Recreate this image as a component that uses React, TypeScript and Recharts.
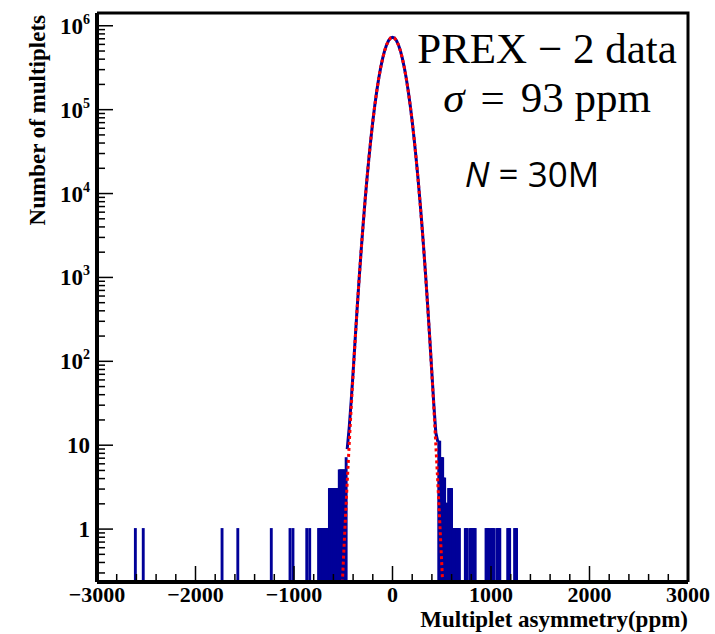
import { ComposedChart, Bar, Line, XAxis, YAxis } from "recharts";

// core of the histogram (ppm, counts)
const histX = [-460, -440, -420, -400, -380, -360, -340, -320, -300, -280, -260, -240, -220, -200, -180, -160, -140, -120, -100, -80, -60, -40, -20, 0,
  20, 40, 60, 80, 100, 120, 140, 160, 180, 200, 220, 240, 260, 280, 300, 320, 340, 360, 380, 400, 420, 440, 460];
const histN = [9, 16, 33, 74, 175, 410, 915, 1960, 4010, 7840, 14650, 26100, 44400, 72200, 112000, 166000, 235000, 317000, 409000, 504000, 592000, 665000, 713000, 729000,
  713000, 665000, 592000, 504000, 409000, 317000, 235000, 166000, 112000, 72200, 44400, 26100, 14650, 7850, 4020, 1965, 918, 408, 174, 72, 30, 14, 11];

// gaussian fit
const fitX = [-520, -500, -480, -460, -440, -420, -400, -380, -360, -340, -320, -300, -280, -260, -240, -220, -200, -180, -160, -140, -120, -100, -80, -60, -40, -20, 0,
  20, 40, 60, 80, 100, 120, 140, 160, 180, 200, 220, 240, 260, 280, 300, 320, 340, 360, 380, 400, 420, 440, 460, 480, 500, 520];
const fitN = [0.119, 0.386, 1.2, 3.55, 10.05, 27.2, 70.1, 172.8, 406.6, 913, 1959, 4013, 7845, 14650, 26110, 44440, 72240, 112100, 166100, 234900, 317300, 409200, 503900, 592500, 665000, 712900, 729400,
  712900, 665000, 592500, 503900, 409200, 317300, 234900, 166100, 112100, 72240, 44440, 26110, 14650, 7845, 4013, 1959, 913, 406.6, 172.8, 70.1, 27.2, 10.05, 3.55, 1.2, 0.386, 0.119];

// sparse tail bins
const tailX = [-2610, -2530, -1730, -1570, -1230, -1040, -1010, -870, -840,
  -750, -740, -730, -720, -710, -700, -690, -680, -670, -660, -650,
  -640, -630, -620, -610, -600, -590, -580, -570, -560, -550,
  -540, -530, -520, -510, -500, -490, -480, -470,
  470, 480, 490, 500, 510, 520, 530, 540, 550, 560, 570, 580, 590, 600,
  610, 620, 630, 640, 650, 660, 670, 680, 740, 750, 760, 790, 800, 810, 820, 830, 840,
  950, 960, 970, 980, 1000, 1010, 1020, 1030, 1060, 1070, 1080, 1090, 1170, 1180, 1190, 1240, 1250, 1260];
const tailN = [1, 1, 1, 1, 1, 1, 1, 1, 1,
  1, 1, 1, 1, 1, 1, 1, 1, 1, 1, 1,
  3, 3, 3, 3, 3, 3, 3, 3, 3, 3,
  5, 5, 5, 5, 5, 5, 5, 7,
  11, 11, 7, 7, 7, 4, 4, 2, 2, 2, 3, 3, 3, 3,
  1, 1, 1, 1, 1, 1, 1, 1, 1, 1, 1, 1, 1, 1, 1, 1, 1,
  1, 1, 1, 1, 1, 1, 1, 1, 1, 1, 1, 1, 1, 1, 1, 1, 1, 1];

const xTicks = Array.from({ length: 31 }, (_, i) => -3000 + i * 200);
const mantissas = [1, 2, 3, 4, 5, 6, 7, 8, 9];
const decades = [1, 10, 100, 1000, 10000, 100000];
const yTicks = [0.3, 0.4, 0.5, 0.6, 0.7, 0.8, 0.9, ...decades.flatMap((d) => mantissas.map((m) => m * d)), 1000000];

const histData = histX.map((x, i) => ({ x, n: histN[i] }));
const fitData = fitX.map((x, i) => ({ x, f: fitN[i] }));
const tailData = tailX.map((x, i) => ({ x, t: tailN[i] }));

const SERIF = '"Liberation Serif", "Times New Roman", serif';
const BLUE = "#000099";

function XTick(props: any) {
  const { x, y, payload } = props;
  const v = payload.value;
  const major = v % 1000 === 0;
  return (
    <g>
      <line x1={x} x2={x} y1={y} y2={y - (major ? 16 : 8)} stroke="#000" strokeWidth={1.5} />
      {major && (
        <text x={x} y={y + 20} textAnchor="middle" fontFamily={SERIF} fontWeight="bold" fontSize={22} fill="#000">
          {v < 0 ? `−${-v}` : `${v}`}
        </text>
      )}
    </g>
  );
}

function YTick(props: any) {
  const { x, y, payload } = props;
  const v = payload.value;
  const exp = Math.round(Math.log10(v));
  const major = Math.abs(Math.log10(v) - exp) < 1e-6;
  return (
    <g>
      <line x1={x} x2={x + (major ? 16 : 8)} y1={y} y2={y} stroke="#000" strokeWidth={1.5} />
      {major && (
        <text x={x - 7} y={y + 8} textAnchor="end" fontFamily={SERIF} fontWeight="bold" fontSize={23} fill="#000">
          {exp === 0 ? "1" : exp === 1 ? "10" : (
            <>
              10<tspan dy={-10} fontSize={14}>{exp}</tspan>
            </>
          )}
        </text>
      )}
    </g>
  );
}

export default function App() {
  return (
    <div style={{ position: "relative", width: 715, height: 634 }}>
      <style>{`body{margin:0}`}</style>
      <ComposedChart width={715} height={634} data={tailData} margin={{ top: 13, right: 27, bottom: 0, left: 0 }}>
        <XAxis
          dataKey="x"
          type="number"
          domain={[-3000, 3000]}
          ticks={xTicks}
          interval={0}
          height={52}
          tickSize={0}
          tickMargin={0}
          tick={<XTick />}
          axisLine={{ stroke: "#000", strokeWidth: 4 }}
          allowDataOverflow
        />
        <YAxis
          type="number"
          scale="log"
          domain={[0.234, 1420000]}
          ticks={yTicks}
          interval={0}
          width={97}
          tickSize={0}
          tickMargin={0}
          tick={<YTick />}
          axisLine={{ stroke: "#000", strokeWidth: 4 }}
          allowDataOverflow
        />
        <Bar dataKey="t" fill={BLUE} stroke={BLUE} strokeWidth={2} barSize={3} isAnimationActive={false} />
        <Line data={histData} dataKey="n" type="linear" stroke={BLUE} strokeWidth={3} dot={false} isAnimationActive={false} />
        <Line data={fitData} dataKey="f" type="linear" stroke="#ff0000" strokeWidth={3} strokeDasharray="3 3" dot={false} isAnimationActive={false} />
      </ComposedChart>
      <svg width={715} height={634} style={{ position: "absolute", left: 0, top: 0, pointerEvents: "none" }}>
        <polyline points="97,13 688,13 688,582" fill="none" stroke="#000" strokeWidth={3} />
        <text transform="rotate(-90)" x={-15} y={45} textAnchor="end" fontFamily={SERIF} fontWeight="bold" fontSize={23} fill="#000">
          Number of multiplets
        </text>
        <text x={688} y={627} textAnchor="end" fontFamily={SERIF} fontWeight="bold" fontSize={23} fill="#000">
          Multiplet asymmetry(ppm)
        </text>
        <text x={547} y={63} textAnchor="middle" fontFamily={SERIF} fontSize={43} fill="#000">
          PREX − 2 data
        </text>
        <text x={547} y={112} textAnchor="middle" fontFamily={SERIF} fontSize={43} fill="#000">
          <tspan fontStyle="italic">σ</tspan>
          <tspan dx={16}>=</tspan>
          <tspan dx={16}>93 ppm</tspan>
        </text>
        <text x={532} y={187} textAnchor="middle" fontFamily='"Open Sans", sans-serif' fontSize={35} fill="#000">
          <tspan fontStyle="italic">N</tspan> = 30M
        </text>
      </svg>
    </div>
  );
}
